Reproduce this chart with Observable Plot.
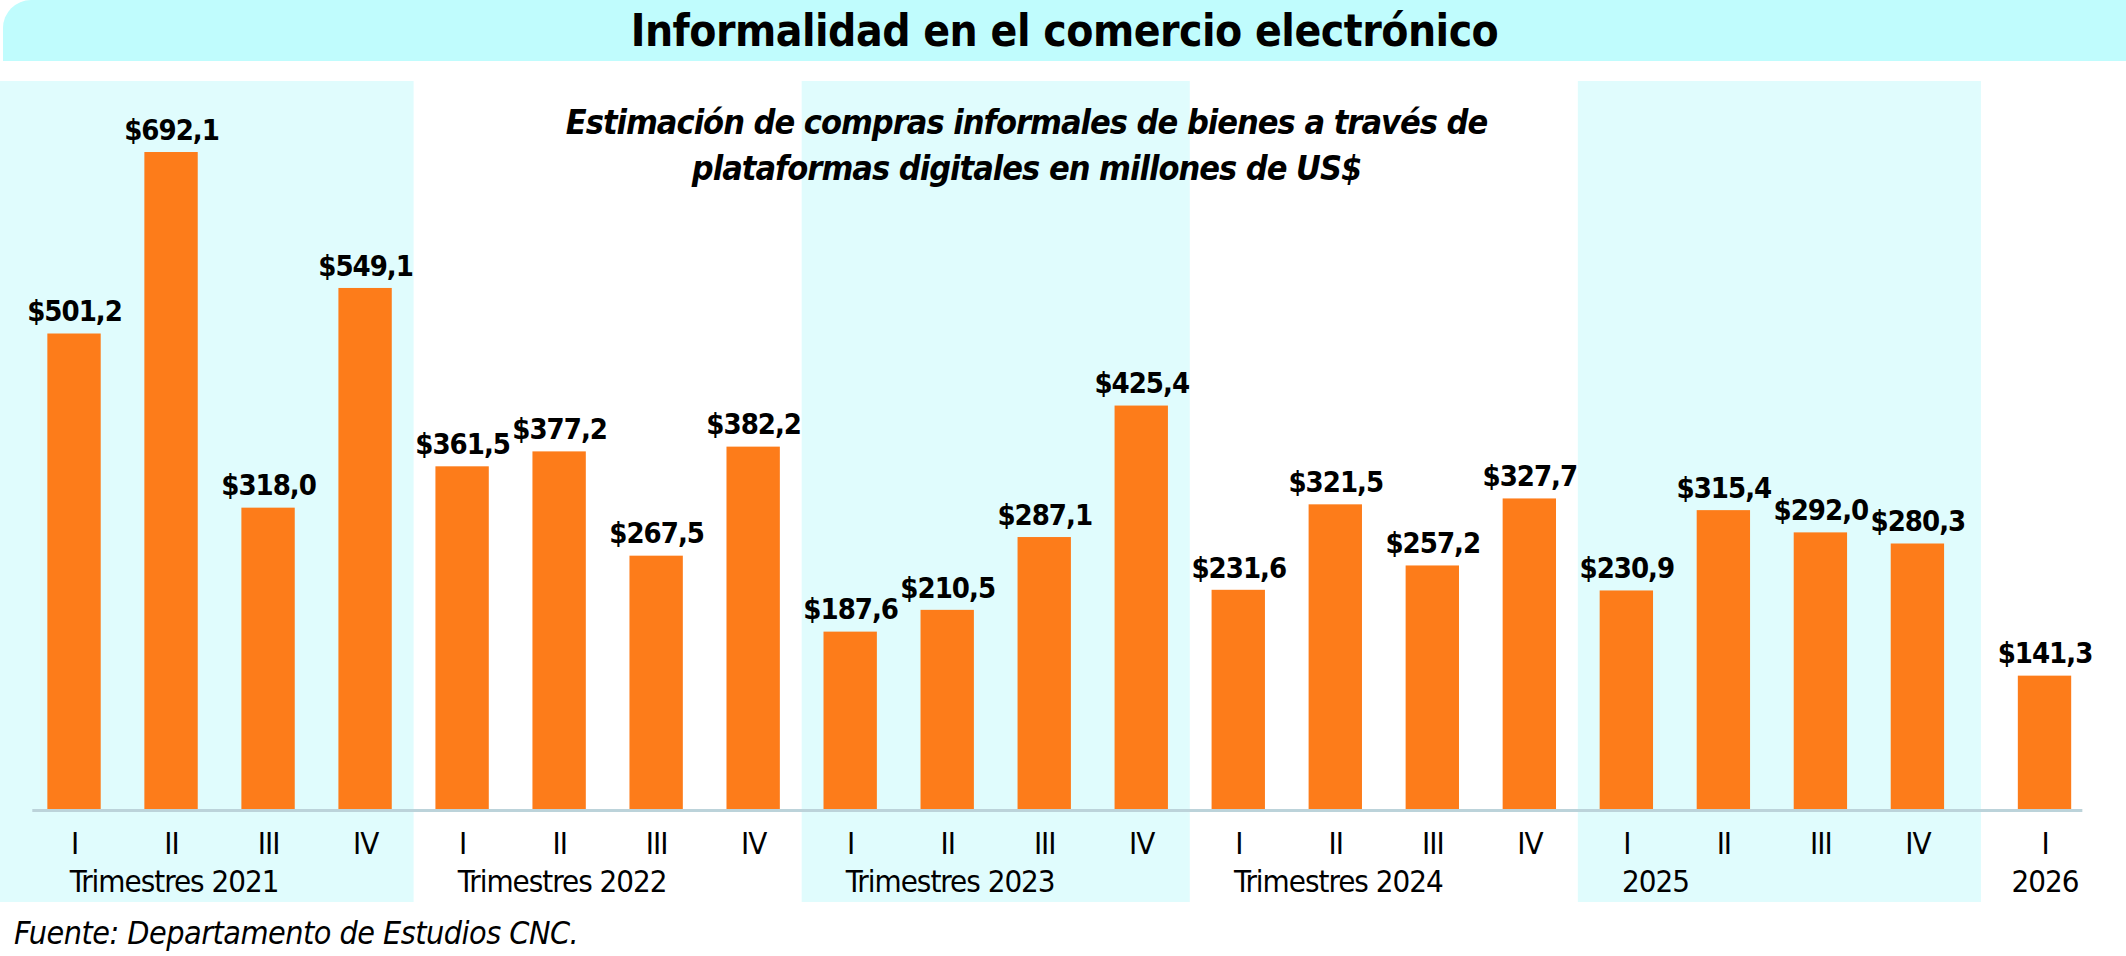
<!DOCTYPE html>
<html><head><meta charset="utf-8">
<script src="https://cdn.jsdelivr.net/npm/d3@7"></script>
<script src="https://cdn.jsdelivr.net/npm/@observablehq/plot@0.6"></script>
<style>
body{margin:0;background:#fff;width:2126px;overflow:hidden;font-family:"DejaVu Sans Condensed",sans-serif}
#title{height:61px;margin-left:3px;background:#c0fcfd;border-top-left-radius:28px;text-align:center;font:bold 44px "DejaVu Sans Condensed",sans-serif;line-height:61px;color:#000;letter-spacing:-0.5px}
#gap{height:20px}
#src{font:italic 32px "DejaVu Sans Condensed",sans-serif;padding-left:14px;line-height:44px;color:#000;letter-spacing:-0.5px}
svg{display:block}
svg text{letter-spacing:-1px}
</style></head><body>
<div id="title">Informalidad en el comercio electrónico</div>
<div id="gap"></div>
<div id="chart"></div>
<div id="src">Fuente: Departamento de Estudios CNC.</div>
<script>
const years = ["2021","2022","2023","2024","2025","2026"];
const groupLabels = ["Trimestres 2021","Trimestres 2022","Trimestres 2023","Trimestres 2024","2025","2026"];
const quarters = ["I","II","III","IV"];
const values = [
  [501.2, 692.1, 318.0, 549.1],
  [361.5, 377.2, 267.5, 382.2],
  [187.6, 210.5, 287.1, 425.4],
  [231.6, 321.5, 257.2, 327.7],
  [230.9, 315.4, 292.0, 280.3],
  [141.3]
];
const shadedYears = ["2021","2023","2025"];
const subtitle = ["Estimación de compras informales de bienes a través de","plataformas digitales en millones de US$"];

const rows = [];
let pos = 0;
const groups = [];
values.forEach((vals, g) => {
  if (g === values.length - 1) pos += 0.31;
  const start = pos;
  vals.forEach((v, q) => { rows.push({year: years[g], q: quarters[q], v, x: pos}); pos += 1; });
  groups.push({year: years[g], label: groupLabels[g], first: start, last: pos - 1, n: vals.length});
});
groups.forEach((g, i) => {
  const prev = groups[i-1], next = groups[i+1];
  g.x1 = prev ? (prev.last + g.first) / 2 : -0.763;
  g.x2 = next ? (g.last + next.first) / 2 : 21.15;
});
const fmt = v => "$" + v.toFixed(1).replace(".", ",");
const F = "DejaVu Sans Condensed, sans-serif";

const plot = Plot.plot({
  width: 2126, height: 830,
  marginLeft: 0, marginRight: 0, marginTop: 0, marginBottom: 9,
  x: {domain: [-0.763, 21.15], axis: null},
  y: {domain: [-96.8, 766.8], axis: null},
  style: {fontFamily: F, background: "transparent"},
  marks: [
    Plot.rect(groups.filter(g => shadedYears.includes(g.year)), {x1: "x1", x2: "x2", y1: -96.8, y2: 766.8, fill: "#e0fcfd"}),
    Plot.rect(rows, {x1: d => d.x - 0.275, x2: d => d.x + 0.275, y1: 0, y2: "v", fill: "#fd7c1a"}),
    Plot.ruleY([0], {x1: -0.43, x2: 20.7, stroke: "#bcd3da", strokeWidth: 3}),
    Plot.text(rows, {x: "x", y: "v", text: d => fmt(d.v), dy: -22, fontSize: 29, fontWeight: "bold", fill: "#000"}),
    Plot.text(rows, {x: "x", y: 0, text: "q", dy: 34, fontSize: 31, fill: "#000"}),
    Plot.text(groups.filter(g => g.n > 1), {x: d => d.first - 0.05, y: 0, text: "label", dy: 72, fontSize: 31, fill: "#000", textAnchor: "start"}),
    Plot.text(groups.filter(g => g.n === 1), {x: "first", y: 0, text: "label", dy: 72, fontSize: 31, fill: "#000", textAnchor: "middle"}),
    Plot.text([subtitle.join("\n")], {frameAnchor: "top-left", dx: 1026, dy: 20, text: d => d, textAnchor: "middle", lineAnchor: "top",
      fontSize: 34, fontWeight: "bold", fontStyle: "italic", lineHeight: 1.35, fill: "#000"})
  ]
});
document.getElementById("chart").appendChild(plot);
</script>
</body></html>
